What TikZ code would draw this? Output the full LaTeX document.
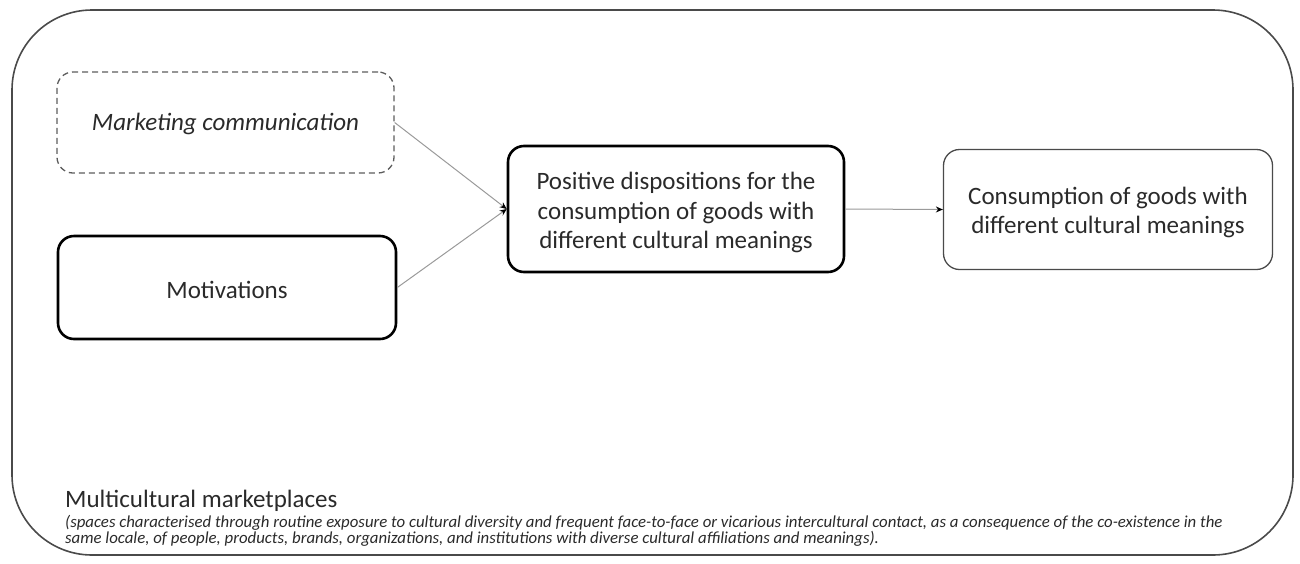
\documentclass[tikz,border=0pt]{standalone}
\usepackage{fontspec}
\setmainfont{Carlito}
\usetikzlibrary{arrows.meta}
\definecolor{txt}{HTML}{2A2A2A}
\definecolor{framec}{HTML}{4A4A4A}
\definecolor{connc}{HTML}{9A9A9A}
\begin{document}
\begin{tikzpicture}[x=1pt,y=-1pt,
  box/.style={rectangle, rounded corners=16pt, inner sep=0pt},
  boxtext/.style={align=center, inner sep=0pt, font=\fontsize{25}{29.5}\selectfont, text=txt},
  thickbox/.style={box, draw=black, line width=2.6pt},
  thinbox/.style={box, draw=framec, line width=1.3pt},
  dashbox/.style={box, draw=framec!90, line width=1.3pt, dash pattern=on 6pt off 4pt},
  conn/.style={draw=connc, line width=1pt, -{Stealth[length=7pt,width=6pt,color=black]}},
  frameline/.style={draw=framec, line width=1.6pt, rounded corners=80pt}]
\useasboundingbox (0,0) rectangle (1300,563);
\path[frameline] (12,10) rectangle (1293,555);

\node[dashbox, minimum width=337pt, minimum height=101pt] (mc) at (225.5,122.5) {};
\node[boxtext] (mcT) at ([yshift=-1.5pt]mc.center) {\itshape Marketing communication};
\node[thickbox, minimum width=338pt, minimum height=103pt] (mot) at (227,287.5) {};
\node[boxtext] (motT) at ([yshift=-2.5pt]mot.center) {Motivations};
\node[thickbox, minimum width=336pt, minimum height=126pt] (pos) at (676,209) {};
\node[boxtext] (posT) at ([yshift=-3.5pt]pos.center) {Positive dispositions for the\\consumption of goods with\\different cultural meanings};
\node[thinbox, minimum width=329pt, minimum height=120pt] (con) at (1108,209.5) {};
\node[boxtext] (conT) at ([yshift=-3pt]con.center) {Consumption of goods with\\different cultural meanings};

\draw[conn] (mc.east) -- (pos.west);
\draw[conn] (mot.east) -- (pos.west);
\draw[conn] (pos.east) -- (con.west);

\node[anchor=base west, inner sep=0pt, font=\fontsize{25}{29}\selectfont, text=txt] (mm) at (65,507) {Multicultural marketplaces};
\node[anchor=base west, inner sep=0pt, font=\fontsize{16.8}{17}\selectfont\itshape, text=txt] (d1) at (65,527) {(spaces characterised through routine exposure to cultural diversity and frequent face-to-face or vicarious intercultural contact, as a consequence of the co-existence in the};
\node[anchor=base west, inner sep=0pt, font=\fontsize{16.8}{17}\selectfont\itshape, text=txt] (d2) at (65,543) {same locale, of people, products, brands, organizations, and institutions with diverse cultural affiliations and meanings).};
\end{tikzpicture}
\end{document}
